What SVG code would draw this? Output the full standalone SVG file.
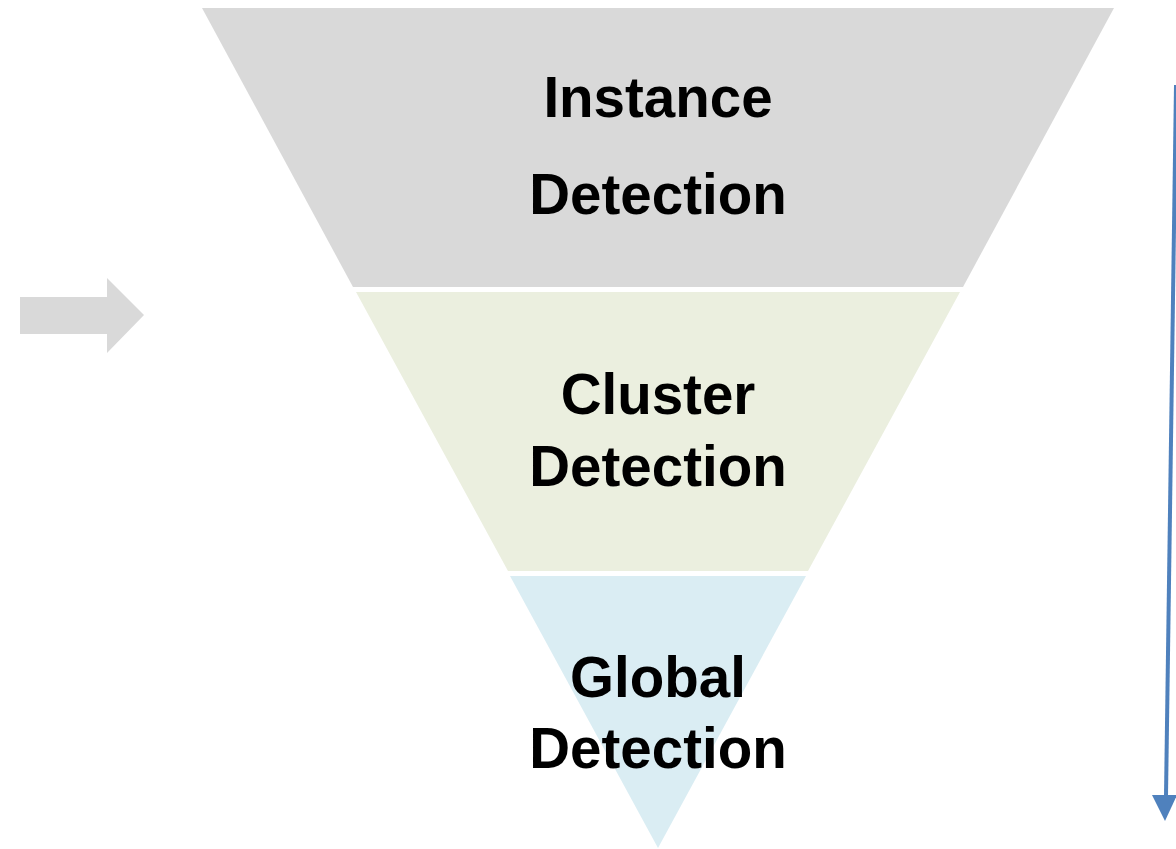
<svg xmlns="http://www.w3.org/2000/svg" width="1176" height="849" viewBox="0 0 1176 849">
  <style>
    .label { font-family: "Liberation Sans", Arial, sans-serif; font-weight: bold; font-size: 56.5px; fill: #000000; text-anchor: middle; }
  </style>
  <rect width="1176" height="849" fill="#FFFFFF"/>

  <!-- funnel stages -->
  <g id="instance">
    <polygon points="202,8 1114,8 963,287 353,287" fill="#D9D9D9"/>
    <text class="label" x="658" y="117">Instance</text>
    <text class="label" x="658" y="214">Detection</text>
  </g>
  <g id="cluster">
    <polygon points="356,292 960,292 808,571 508,571" fill="#EBEFDF"/>
    <text class="label" x="658" y="414">Cluster</text>
    <text class="label" x="658" y="486">Detection</text>
  </g>
  <g id="global">
    <polygon points="510,576 806,576 658,848" fill="#DAEDF3"/>
    <text class="label" x="658" y="697">Global</text>
    <text class="label" x="658" y="768">Detection</text>
  </g>

  <g id="connectors">
    <!-- grey block arrow on the left -->
    <polygon points="20,297 107,297 107,278 144,315 107,353 107,334 20,334" fill="#D9D9D9"/>
    <!-- blue downward arrow on the right -->
    <line x1="1176" y1="85" x2="1166" y2="796" stroke="#4F81BD" stroke-width="4"/>
    <polygon points="1152,795 1177,795 1165,821" fill="#4F81BD"/>
  </g>
</svg>
